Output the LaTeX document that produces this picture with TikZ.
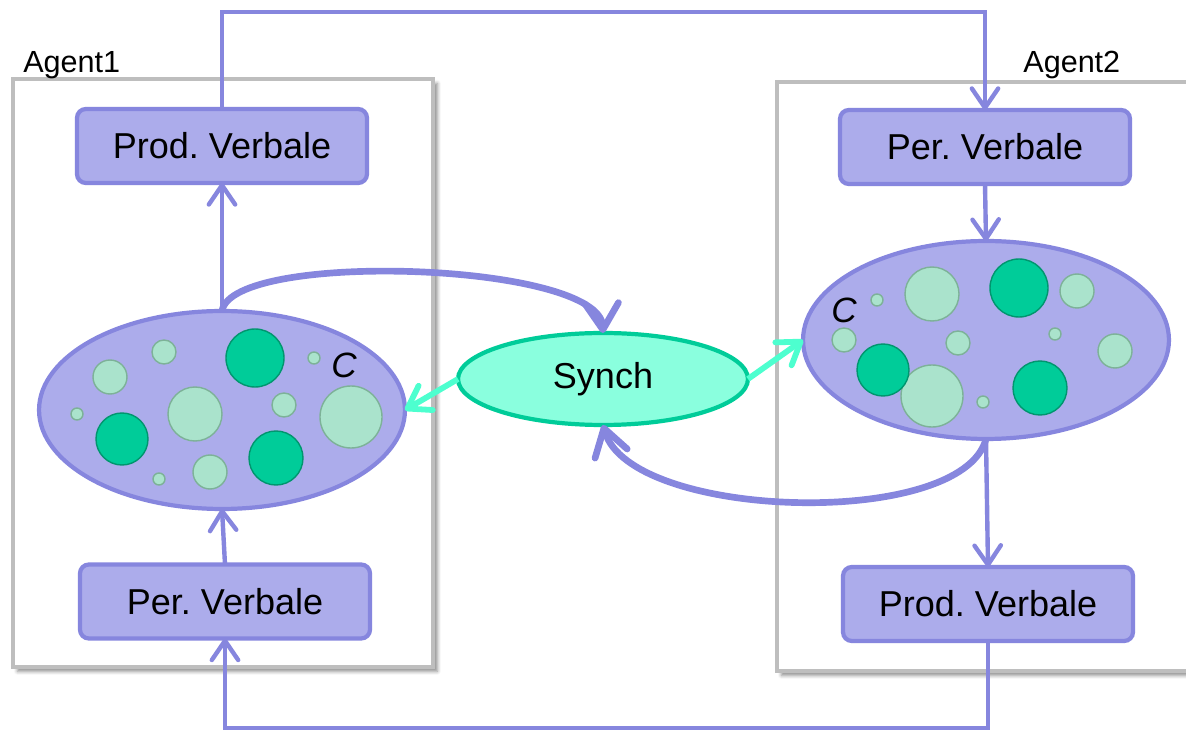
\documentclass[tikz,border=0pt]{standalone}
\usepackage{fontspec}
\setmainfont{Liberation Sans}
\frenchspacing
\usetikzlibrary{arrows.meta,shapes.geometric,shadows.blur}

\definecolor{lineblue}{RGB}{134,134,222}
\definecolor{boxfill}{RGB}{172,172,235}
\definecolor{framegray}{RGB}{190,190,190}
\definecolor{synchfill}{RGB}{138,255,222}
\definecolor{synchline}{RGB}{0,204,153}
\definecolor{aqua}{RGB}{77,255,207}
\definecolor{darkdot}{RGB}{0,204,153}
\definecolor{darkdotline}{RGB}{0,150,110}
\definecolor{lightdot}{RGB}{170,227,204}
\definecolor{lightdotline}{RGB}{125,178,152}

\begin{document}
\begin{tikzpicture}[x=0.02cm,y=-0.02cm,
  agentframe/.style={draw=framegray, line width=2.3pt, fill=white,
    inner sep=0pt, outer sep=0pt,
    blur shadow={shadow xshift=2.5pt, shadow yshift=-2.5pt,
      shadow blur radius=2pt, shadow opacity=45}},
  agentlabel/.style={anchor=base west, inner sep=0pt,
    font=\fontsize{17.4}{20}\selectfont},
  procbox/.style={draw=lineblue, fill=boxfill, line width=2.4pt,
    rounded corners=5pt, minimum width=5.8cm, minimum height=1.48cm,
    inner sep=0pt, outer sep=0pt, font=\fontsize{20.5}{24}\selectfont},
  memory/.style={ellipse, draw=lineblue, fill=boxfill, line width=2.4pt,
    minimum width=7.32cm, minimum height=3.96cm, inner sep=0pt, outer sep=0pt},
  synchnode/.style={ellipse, draw=synchline, fill=synchfill, line width=2.4pt,
    minimum width=5.8cm, minimum height=1.84cm, inner sep=0pt, outer sep=0pt,
    font=\fontsize{20.5}{24}\selectfont},
  clabel/.style={inner sep=0pt, font=\itshape\fontsize{20}{24}\selectfont},
  darkcell/.style={draw=darkdotline, fill=darkdot, line width=0.8pt},
  lightcell/.style={draw=lightdotline, fill=lightdot, line width=0.8pt},
  flow/.style={draw=lineblue, line width=2.5pt,
    -{Straight Barb[length=11pt,width=15pt,round]}},
  loop/.style={draw=lineblue, line width=3.8pt,
    -{Straight Barb[length=15pt,width=19pt,round]}},
  sync/.style={draw=aqua, line width=3.3pt,
    -{Straight Barb[length=12pt,width=16pt,round]}}]

\useasboundingbox (0,0) rectangle (1186,732);
\clip (0,0) rectangle (1186,732);

% agent frames and their titles
\node[agentframe, minimum width=8.4cm, minimum height=11.76cm] (agent1) at (223,373) {};
\node[agentframe, minimum width=9cm, minimum height=11.78cm] (agent2) at (1002,376.5) {};
\node[agentlabel] (lab1) at (23,73) {Agent1};
\node[agentlabel] (lab2) at (1023,73) {Agent2};

% verbal production / perception blocks
\node[procbox] (prodA) at (222,146) {Prod. Verbale};
\node[procbox] (perA) at (225,601.5) {Per. Verbale};
\node[procbox] (perB) at (985,147) {Per. Verbale};
\node[procbox] (prodB) at (988,604) {Prod. Verbale};

% conceptual spaces
\node[memory] (memA) at (222,410) {};
\node[memory] (memB) at (986,340) {};

% cells of the first conceptual space
\foreach \cx/\cy/\r in {110/377/17, 164/352/12, 314/358/6, 77/414/6,
    195/414/27, 284/405/12, 351/417/31, 159/479/6, 210/472/17}
  \draw[lightcell] (\cx,\cy) circle[radius=\r*0.02cm];
\foreach \cx/\cy/\r in {255/358/29, 122/439/26, 276/458/27}
  \draw[darkcell] (\cx,\cy) circle[radius=\r*0.02cm];
\node[clabel] (cA) at (344,365) {C};

% cells of the second conceptual space
\foreach \cx/\cy/\r in {932/294/27, 877/300/6, 1077/291/17, 844/340/12,
    958/343/12, 1055/334/6, 1115/351/17, 932/396/31, 983/402/6}
  \draw[lightcell] (\cx,\cy) circle[radius=\r*0.02cm];
\foreach \cx/\cy/\r in {1019/288/29, 883/370/26, 1040/388/27}
  \draw[darkcell] (\cx,\cy) circle[radius=\r*0.02cm];
\node[clabel] (cB) at (844,310) {C};

% synchronisation
\node[synchnode] (synch) at (603,379) {Synch};

% verbal channel between the agents
\draw[flow] (prodA.north) -- ++(0,-97) -| (perB.north);
\draw[flow] (prodB.south) -- ++(0,87) -| (perA.south);

% internal flows
\draw[flow] (memA.north) -- (prodA.south);
\draw[flow] (perA.north) -- (memA.south);
\draw[flow] (perB.south) -- (memB.north);
\draw[flow] (memB.south) -- (prodB.north);

% loops through the synchronisation
\draw[loop] (memA.north) .. controls (232,250) and (600,262) .. (synch.north);
\draw[loop] (memB.south) .. controls (962,530) and (630,520) .. (synch.south);
\draw[sync] (synch.west) -- (memA.east);
\draw[sync] (synch.east) -- (memB.west);

\end{tikzpicture}
\end{document}
